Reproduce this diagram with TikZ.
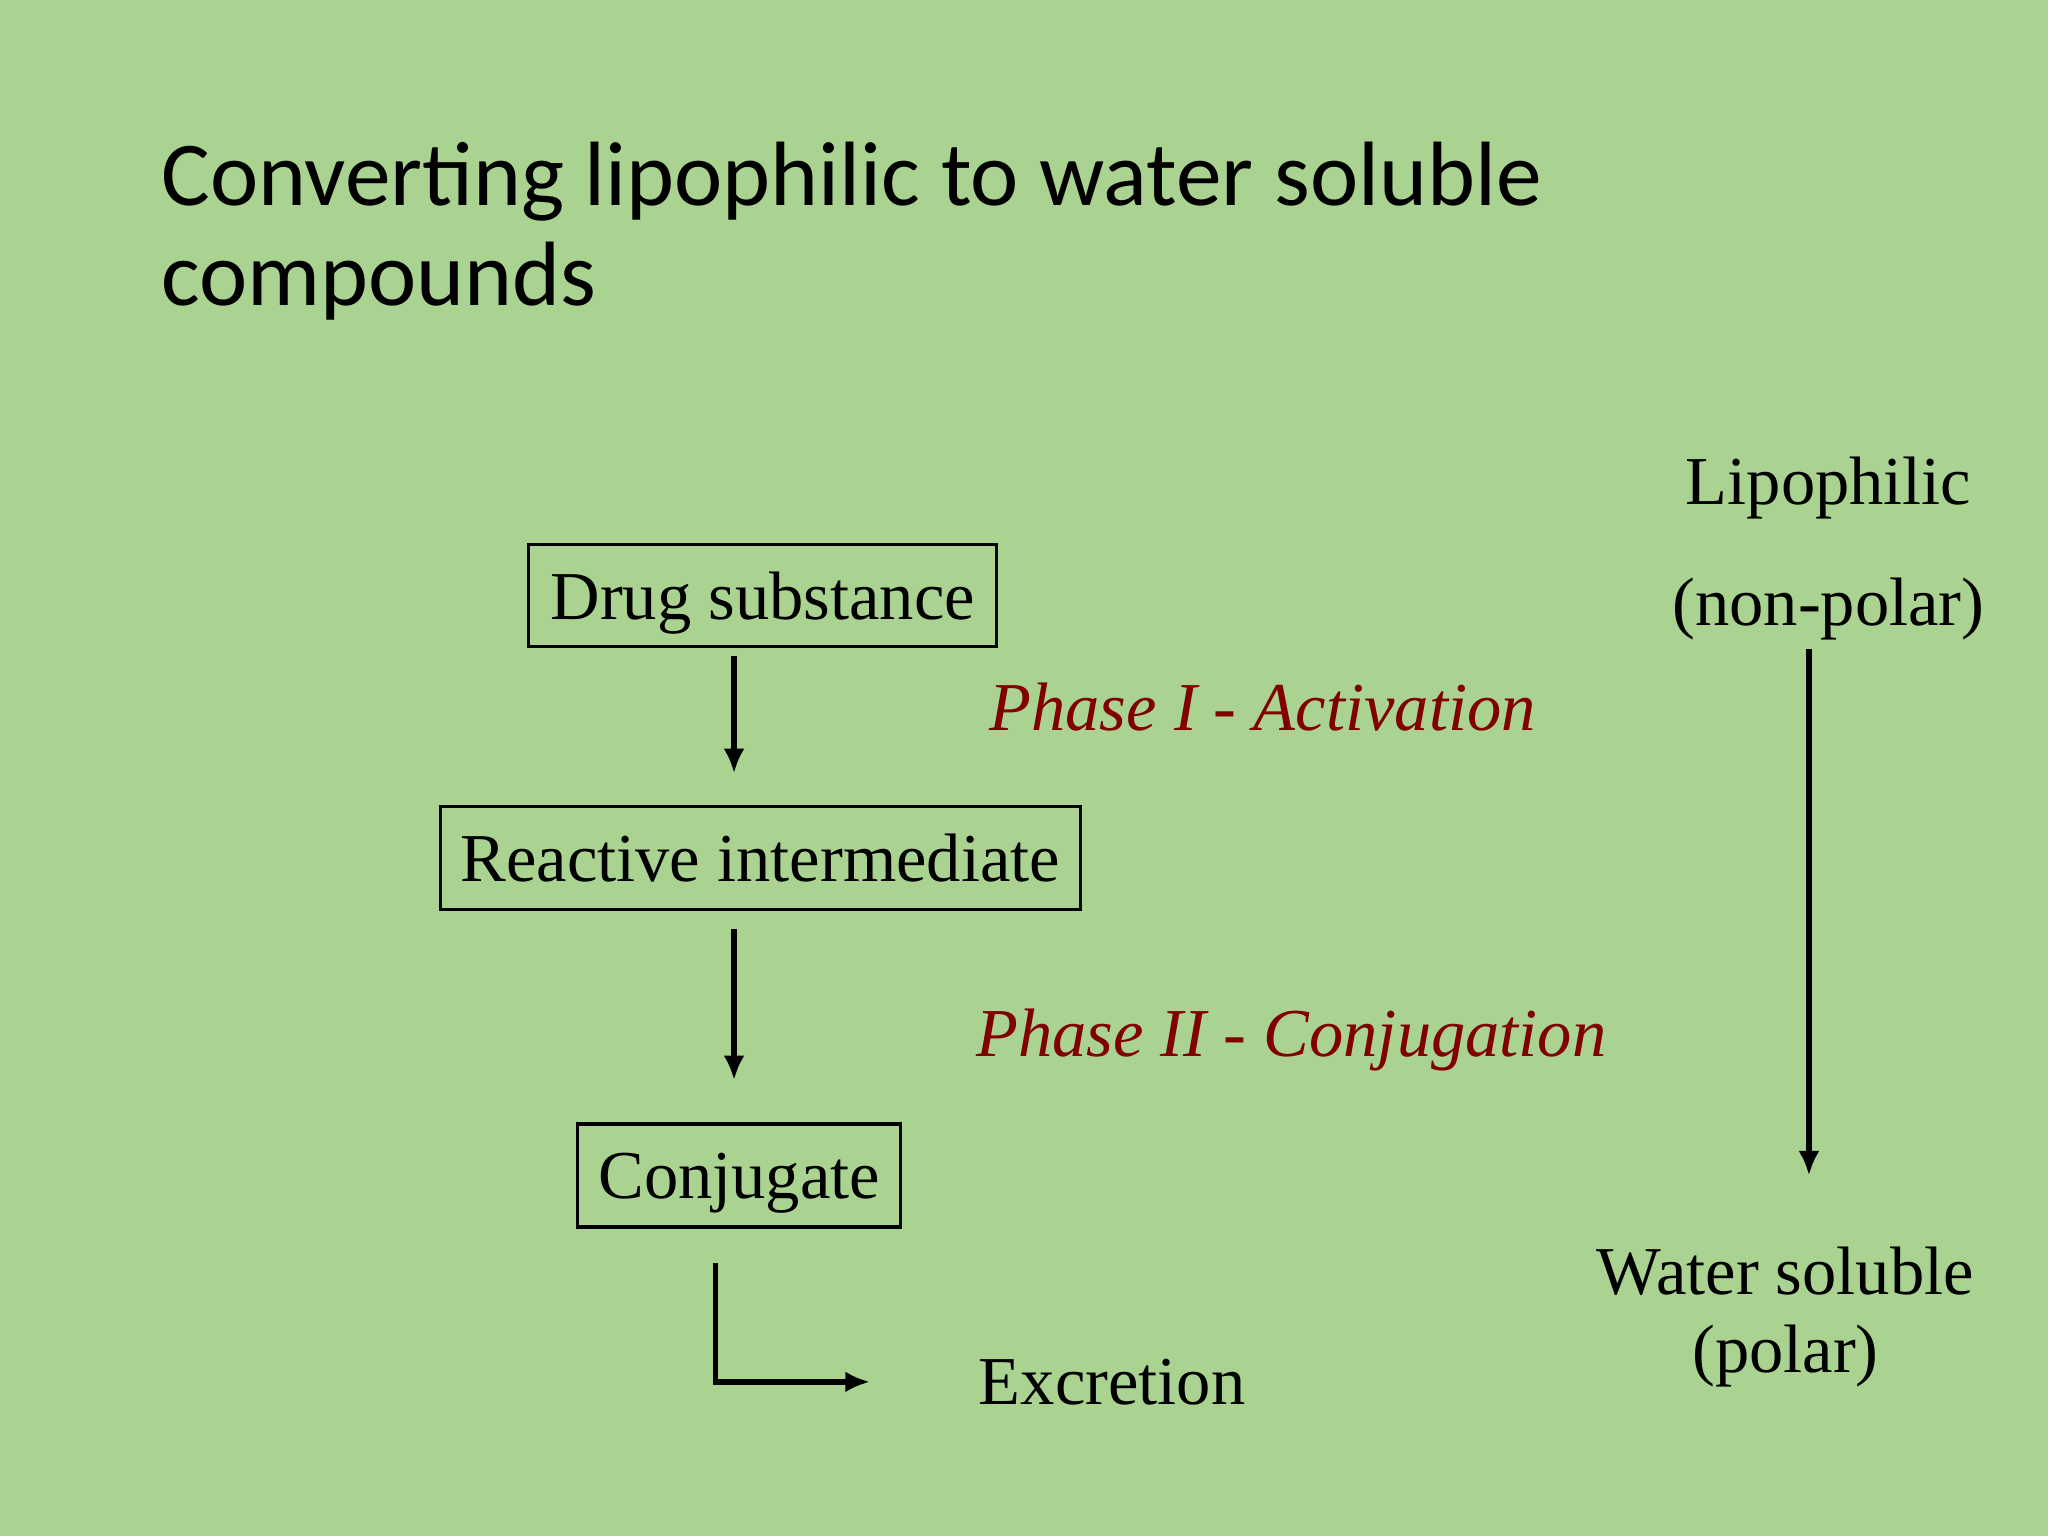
\documentclass[tikz,border=0pt]{standalone}
\usepackage{fontspec}
\setmainfont{Liberation Serif}
\newfontfamily\titlefont{Carlito}
\usetikzlibrary{arrows.meta}
\definecolor{bgGreen}{RGB}{170,210,145}
\definecolor{phaseRed}{RGB}{128,0,0}
\tikzset{
  box/.style={draw, line width=0.9pt, inner sep=0pt, text depth=0pt, font=\fontsize{19.5}{23}\selectfont},
  txt/.style={font=\fontsize{19.5}{23}\selectfont},
  phase/.style={txt, text=phaseRed, font=\fontsize{19.5}{23}\selectfont\itshape, anchor=west},
  flow/.style={line width=1.5pt, -{Latex[length=7pt,width=6pt]}}
}
\begin{document}
\begin{tikzpicture}[x=0.01306cm, y=-0.01306cm]
  \fill[bgGreen] (0,0) rectangle (1568,1176);
  \useasboundingbox (0,0) rectangle (1568,1176);
  % title
  \node[anchor=north west, align=left, inner sep=0pt, font=\titlefont\fontsize{26}{28.6}\selectfont]
    (title) at (123,108) {Converting lipophilic to water soluble\\compounds};
  % boxes
  \node[box, minimum width=4.68cm, minimum height=1.02cm] (drug) at (584,456) {Drug substance};
  \node[box, minimum width=6.40cm, minimum height=1.03cm] (react) at (582,657) {Reactive intermediate};
  \node[box, minimum width=3.23cm, minimum height=1.03cm] (conj) at (566,900) {Conjugate};
  \node[txt, anchor=west] (excr) at (740,1058) {Excretion};
  % phases
  \node[phase] (ph1) at (748,541) {Phase I - Activation};
  \node[phase] (ph2) at (738,796) {Phase II - Conjugation};
  % polarity
  \node[txt] (lipo) at (1400,374) {Lipophilic};
  \node[txt] (nonpol) at (1400,466) {(non-polar)};
  \node[txt] (water) at (1367,973) {Water soluble};
  \node[txt] (polar) at (1367,1038) {(polar)};
  % arrows
  \coordinate (a1) at (562,502);  \coordinate (b1) at (562,592);
  \coordinate (a2) at (562,711);  \coordinate (b2) at (562,827);
  \coordinate (a3) at (548,967);  \coordinate (c3) at (548,1058);
  \coordinate (b3) at (666,1058);
  \coordinate (a4) at (1385,497); \coordinate (b4) at (1385,900);
  \draw[flow] (a1) -- (b1);
  \draw[flow] (a2) -- (b2);
  \draw[flow] (a3) -- (c3) -- (b3);
  \draw[flow] (a4) -- (b4);
\end{tikzpicture}
\end{document}
